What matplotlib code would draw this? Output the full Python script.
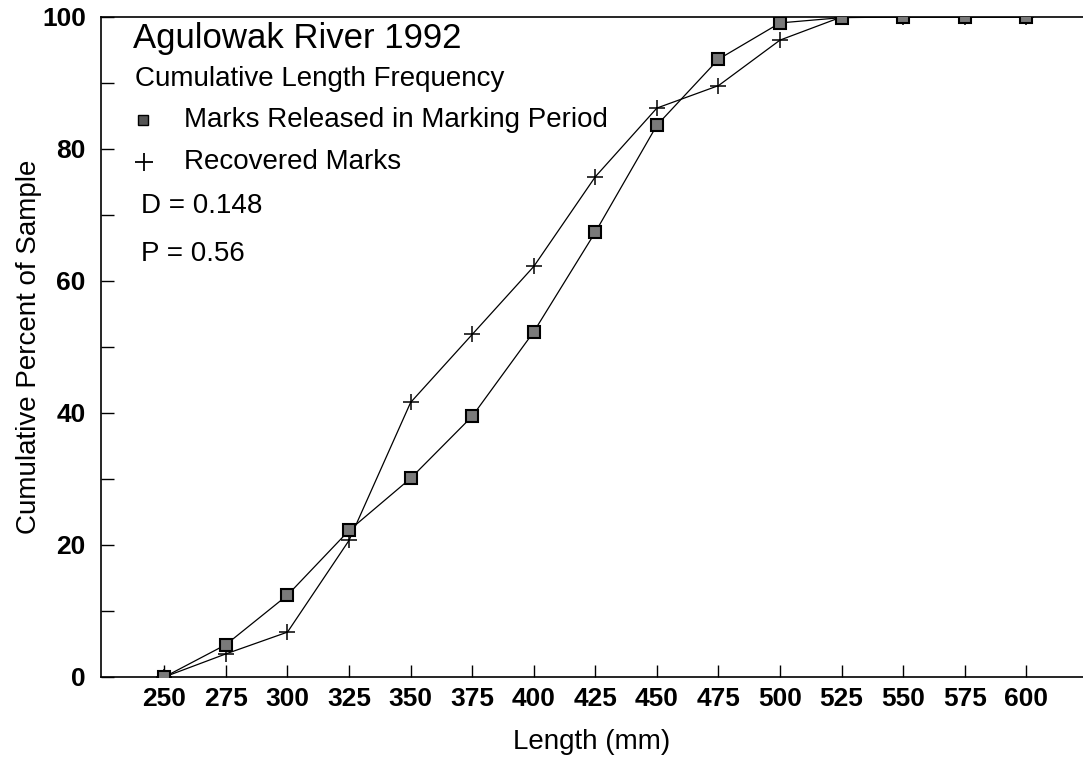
import matplotlib
matplotlib.use("Agg")
import matplotlib.pyplot as plt
from matplotlib.ticker import MultipleLocator

plt.rcParams['font.family'] = ['Liberation Sans', 'DejaVu Sans']

# --------------------------------------------------
# Data
# --------------------------------------------------

length_mm = [250, 275, 300, 325, 350, 375, 400, 425, 450, 475, 500, 525, 550, 575, 600]
released_pct = [0, 4.9, 12.4, 22.2, 30.1, 39.5, 52.3, 67.4, 83.6, 93.6, 99.1, 99.9, 100, 100, 100]
recovered_pct = [0, 3.5, 6.8, 20.7, 41.6, 51.9, 62.2, 75.8, 86.2, 89.6, 96.5, 100, 100, 100, 100]

x_ticks = [250, 275, 300, 325, 350, 375, 400, 425, 450, 475, 500, 525, 550, 575, 600]
y_ticks = [0, 20, 40, 60, 80, 100]

# --------------------------------------------------
# Figure
# --------------------------------------------------

fig = plt.figure(figsize=(10.83, 7.61), dpi=100)
ax = fig.add_axes([0.0933, 0.1104, 0.9067, 0.8673])

ax.plot(length_mm, recovered_pct, color="black", linewidth=0.9,
        marker="+", markersize=11, markeredgewidth=1.1, zorder=3)
ax.plot(length_mm, released_pct, color="black", linewidth=0.9,
        marker="s", markersize=9, markerfacecolor="#7a7a7a",
        markeredgecolor="black", markeredgewidth=1.5, zorder=4)

ax.set_xlim(224.3, 623.0)
ax.set_ylim(0, 100)
ax.set_xticks(x_ticks)
ax.set_yticks(y_ticks)
ax.yaxis.set_minor_locator(MultipleLocator(10))

ax.tick_params(axis="both", which="both", direction="in", length=9, width=1)
ax.tick_params(axis="x", which="major", labelsize=19, pad=7)
ax.tick_params(axis="y", which="major", labelsize=19, pad=11)
for lab in ax.get_xticklabels() + ax.get_yticklabels():
    lab.set_fontweight("bold")

ax.spines["right"].set_visible(False)
for side in ["left", "bottom", "top"]:
    ax.spines[side].set_linewidth(1.2)

ax.set_xlabel("Length (mm)", fontsize=20, labelpad=13)
ax.set_ylabel("Cumulative Percent of Sample", fontsize=20, labelpad=0)

# --------------------------------------------------
# Annotations
# --------------------------------------------------

ax.text(0.0326, 0.968, "Agulowak River 1992", transform=ax.transAxes,
        fontsize=25, va="center", ha="left")
ax.text(0.0346, 0.906, "Cumulative Length Frequency", transform=ax.transAxes,
        fontsize=20, va="center", ha="left")

ax.plot([0.0428], [0.844], transform=ax.transAxes, marker="s", markersize=7,
        markerfacecolor="#555555", markeredgecolor="black", clip_on=False)
ax.text(0.0845, 0.844, "Marks Released in Marking Period", transform=ax.transAxes,
        fontsize=20, va="center", ha="left")
ax.plot([0.0438], [0.780], transform=ax.transAxes, marker="+", markersize=13,
        markeredgewidth=1.3, color="black", clip_on=False)
ax.text(0.0845, 0.780, "Recovered Marks", transform=ax.transAxes,
        fontsize=20, va="center", ha="left")

ax.text(0.0407, 0.714, "D = 0.148", transform=ax.transAxes,
        fontsize=20, va="center", ha="left")
ax.text(0.0407, 0.641, "P = 0.56", transform=ax.transAxes,
        fontsize=20, va="center", ha="left")

fig.savefig("out.png", dpi=100)
plt.close(fig)
print("Figure Saved.")
